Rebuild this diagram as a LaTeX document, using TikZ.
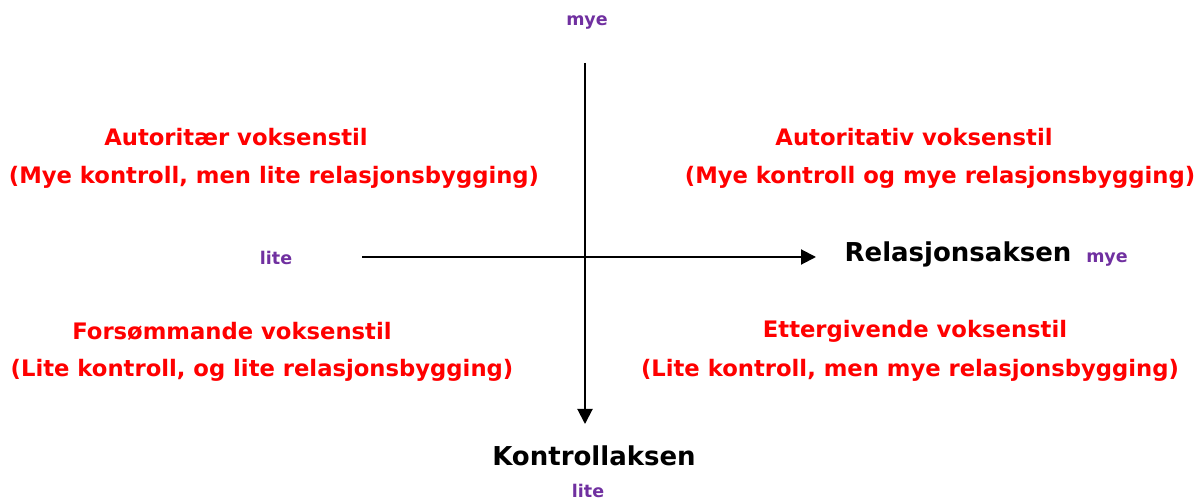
\documentclass[tikz,border=0pt]{standalone}
\usepackage{fontspec}
\setmainfont{DejaVu Sans}
\usetikzlibrary{arrows.meta}
\definecolor{redtxt}{RGB}{255,0,0}
\definecolor{purp}{RGB}{112,48,160}
\begin{document}
\begin{tikzpicture}[x=1pt,y=-1pt,
  quad/.style={text=redtxt,font=\bfseries\fontsize{22.7}{26}\selectfont,inner sep=0pt,anchor=center},
  axislabel/.style={text=black,font=\bfseries\fontsize{26}{30}\selectfont,inner sep=0pt},
  small/.style={text=purp,font=\bfseries\fontsize{17.5}{20}\selectfont,inner sep=0pt},
  axis/.style={line width=2pt,-{Triangle[length=15pt,width=15pt]}}]
\useasboundingbox (0,0) rectangle (1194,502);
% axes endpoints
\coordinate (vtop) at (585,63);
\coordinate (vbot) at (585,424);
\coordinate (hleft) at (362,257);
\coordinate (hright) at (816,257);
\draw[axis] (vtop) -- (vbot);
\draw[axis] (hleft) -- (hright);
% small labels
\node[small] (mtop) at (587,22) {mye};
\node[small] (lleft) at (276,258) {lite};
\node[small] (mright) at (1107,259) {mye};
\node[small] (lbot) at (588,491) {lite};
% axis names
\node[axislabel] (rel) at (958,254) {Relasjonsaksen};
\node[axislabel] (kon) at (594,456) {Kontrollaksen};
% quadrants
\node[quad] (q1a) at (236,137) {Autoritær voksenstil};
\node[quad] (q1b) at (274,177) {(Mye kontroll, men lite relasjonsbygging)};
\node[quad] (q2a) at (914,137) {Autoritativ voksenstil};
\node[quad] (q2b) at (940,177) {(Mye kontroll og mye relasjonsbygging)};
\node[quad] (q3a) at (232,331) {Forsømmande voksenstil};
\node[quad] (q3b) at (262,370) {(Lite kontroll, og lite relasjonsbygging)};
\node[quad] (q4a) at (915,331) {Ettergivende voksenstil};
\node[quad] (q4b) at (910,370) {(Lite kontroll, men mye relasjonsbygging)};
\end{tikzpicture}
\end{document}
